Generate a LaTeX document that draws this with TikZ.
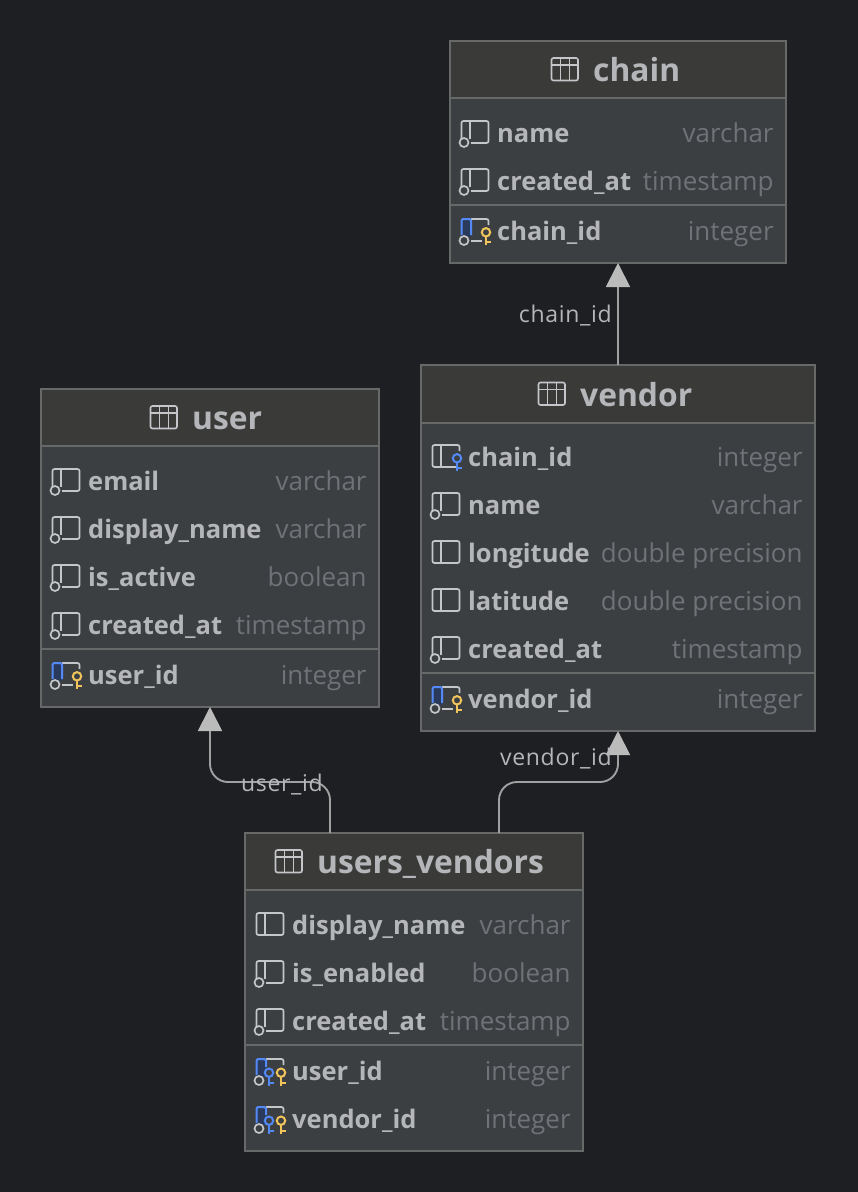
\documentclass[tikz,border=0pt]{standalone}
\usepackage{fontspec}
\setmainfont{Open Sans}
\newfontfamily\lblfont[LetterSpace=3]{Open Sans}
\usetikzlibrary{arrows.meta}
\definecolor{bgc}{HTML}{1E1F22}
\definecolor{headc}{HTML}{3A3A39}
\definecolor{bodyc}{HTML}{3C3F42}
\definecolor{edgec}{HTML}{676868}
\definecolor{textc}{HTML}{B5B6B9}
\definecolor{typec}{HTML}{6F7276}
\definecolor{iconc}{HTML}{C4C6C9}
\definecolor{bluec}{HTML}{548AF7}
\definecolor{navyc}{HTML}{2A3A5C}
\definecolor{goldc}{HTML}{F2C55C}
\definecolor{linec}{HTML}{A0A0A0}
\definecolor{tipc}{HTML}{BBBBBB}
\tikzset{
  tablebox/.style={draw=edgec,line width=1.5pt,inner sep=0pt,outer sep=0pt,fill=none},
  titletxt/.style={anchor=base west,inner sep=0pt,text=textc,font=\bfseries\fontsize{31.8}{38}\selectfont},
  coltxt/.style={anchor=base west,inner sep=0pt,text=textc,font=\bfseries\fontsize{25.5}{30}\selectfont},
  typetxt/.style={anchor=base east,inner sep=0pt,text=typec,font=\fontsize{26}{30}\selectfont},
  edgetxt/.style={anchor=base east,inner sep=0pt,text=textc,font=\lblfont\fontsize{23}{26}\selectfont},
  conn/.style={draw=linec,line width=1.9pt,rounded corners=18pt,-{Triangle[length=24pt,width=24pt,color=tipc]}},
  ico/.style={draw=iconc,line width=1.7pt},
}
% key icon at relative position
\newcommand{\keyglyph}[3]{%
  \draw[#1,line width=2pt] (#2,#3) circle (4.2);
  \draw[#1,line width=2pt] (#2,#3+4) -- (#2,#3+13);
  \draw[#1,line width=2pt] (#2,#3+10) -- (#2+5,#3+10);
}
\newcommand{\ringglyph}{\draw[ico,fill=bodyc] (-33,9.5) circle (4.5);}
\newcommand{\iconplain}{%
  \draw[ico,rounded corners=2pt] (-35.5,-12) rectangle (-8.5,10);
  \draw[ico] (-27,-12) -- (-27,10);}
\newcommand{\iconreq}{%
  \draw[ico,rounded corners=2pt] (-35.5,6) -- (-35.5,-12) -- (-8.5,-12) -- (-8.5,10) -- (-26,10);
  \draw[ico] (-27,-12) -- (-27,6);
  \ringglyph}
\newcommand{\iconfk}{%
  \draw[ico,rounded corners=2pt] (-12,10) -- (-35.5,10) -- (-35.5,-12) -- (-8.5,-12) -- (-8.5,-6);
  \draw[ico] (-27,-12) -- (-27,10);
  \keyglyph{bluec}{-11}{1.3}}
\newcommand{\iconpk}{%
  \fill[navyc] (-35.5,-12) rectangle (-26,6);
  \draw[ico,rounded corners=2pt] (-26,-12) -- (-8.5,-12) -- (-8.5,-6);
  \draw[ico] (-26,9.7) -- (-15,9.7);
  \draw[bluec,line width=2pt,rounded corners=2pt] (-35.5,4) -- (-35.5,-12) -- (-26,-12) -- (-26,4);
  \ringglyph
  \keyglyph{goldc}{-11}{1.3}}
\newcommand{\iconpf}{%
  \fill[navyc] (-35.5,-12) rectangle (-26,6);
  \draw[ico,rounded corners=2pt] (-26,-12) -- (-8.5,-12) -- (-8.5,-6);
  \draw[bluec,line width=2pt,rounded corners=2pt] (-35.5,4) -- (-35.5,-12) -- (-26,-12) -- (-26,-4);
  \ringglyph
  \keyglyph{bluec}{-23}{1.7}
  \keyglyph{goldc}{-11}{1.7}}
% #1 table key, #2 title, #3 x0, #4 x1, #5 y0, #6 yhead, #7 ysep, #8 y1, #9 title x
\newcommand{\dbtable}[9]{%
  \fill[headc] (#3,#5) rectangle (#4,#6);
  \fill[bodyc] (#3,#6) rectangle (#4,#8);
  \draw[edgec,line width=1.5pt] (#3,#6) -- (#4,#6);
  \draw[edgec,line width=1.5pt] (#3,#7) -- (#4,#7);
  \node[tablebox,minimum width={(#4-#3)*1pt},minimum height={(#8-#5)*1pt}] (#1) at ({(#3+#4)/2},{(#5+#8)/2}) {};
  \draw[iconc,line width=1.6pt,rounded corners=2pt] (#9-41.5,{(#5+#6)/2-11.5}) rectangle (#9-15,{(#5+#6)/2+11});
  \draw[iconc,line width=1.6pt] (#9-41.5,{(#5+#6)/2-4.5}) -- (#9-15,{(#5+#6)/2-4.5})
     (#9-32.5,{(#5+#6)/2-11.5}) -- (#9-32.5,{(#5+#6)/2+11})
     (#9-23.5,{(#5+#6)/2-11.5}) -- (#9-23.5,{(#5+#6)/2+11});
  \node[titletxt] (#1-title) at (#9,{(#5+#6)/2+12}) {#2};
}
% #1 node name, #2 field, #3 type, #4 text x, #5 right x, #6 row y, #7 icon macro
\newcommand{\dbcol}[7]{%
  \begin{scope}[shift={(#4,#6)}]#7\end{scope}
  \node[coltxt] (#1) at (#4,#6+9) {#2};
  \node[typetxt] (#1-type) at (#5+0.8,#6+9) {#3};
}
\begin{document}
\begin{tikzpicture}[x=1pt,y=-1pt]
\fill[bgc] (0,0) rectangle (858,1192);
\useasboundingbox (0,0) rectangle (858,1192);

\dbtable{chain}{chain}{450}{786}{41}{98}{205}{263}{593}
\dbcol{c1}{name}{varchar}{497}{773}{133}{\iconreq}
\dbcol{c2}{created\_at}{timestamp}{497}{773}{181}{\iconreq}
\dbcol{c3}{chain\_id}{integer}{497}{773}{231}{\iconpk}

\dbtable{vendor}{vendor}{421}{815}{365}{423}{673}{731}{580}
\dbcol{v1}{chain\_id}{integer}{468}{802}{457}{\iconfk}
\dbcol{v2}{name}{varchar}{468}{802}{505}{\iconreq}
\dbcol{v3}{longitude}{double precision}{468}{802}{553}{\iconplain}
\dbcol{v4}{latitude}{double precision}{468}{802}{601}{\iconplain}
\dbcol{v5}{created\_at}{timestamp}{468}{802}{649}{\iconreq}
\dbcol{v6}{vendor\_id}{integer}{468}{802}{699}{\iconpk}

\dbtable{user}{user}{41}{379}{389}{446}{649}{707}{192}
\dbcol{u1}{email}{varchar}{88}{366}{481}{\iconreq}
\dbcol{u2}{display\_name}{varchar}{88}{366}{529}{\iconreq}
\dbcol{u3}{is\_active}{boolean}{88}{366}{577}{\iconreq}
\dbcol{u4}{created\_at}{timestamp}{88}{366}{625}{\iconreq}
\dbcol{u5}{user\_id}{integer}{88}{366}{675}{\iconpk}

\dbtable{uv}{users\_vendors}{245}{583}{833}{890}{1045}{1151}{317}
\dbcol{w1}{display\_name}{varchar}{292}{570}{925}{\iconplain}
\dbcol{w2}{is\_enabled}{boolean}{292}{570}{973}{\iconreq}
\dbcol{w3}{created\_at}{timestamp}{292}{570}{1021}{\iconreq}
\dbcol{w4}{user\_id}{integer}{292}{570}{1071}{\iconpf}
\dbcol{w5}{vendor\_id}{integer}{292}{570}{1119}{\iconpf}

\coordinate (cx) at (618,300);
\coordinate (ua) at (330,782);
\coordinate (ub) at (210,782);
\coordinate (va) at (499,782);
\coordinate (vb) at (618,782);
\draw[conn] (vendor.north -| cx) -- (chain.south -| cx);
\draw[conn] (uv.north -| ua) -- (ua) -- (ub) -- (user.south -| ub);
\draw[conn] (uv.north -| va) -- (va) -- (vb) -- (vendor.south -| vb);
\node[edgetxt] (l1) at (612,322) {chain\_id};
\node[edgetxt] (l2) at (323,791) {user\_id};
\node[edgetxt] (l3) at (612,765) {vendor\_id};
\end{tikzpicture}
\end{document}
